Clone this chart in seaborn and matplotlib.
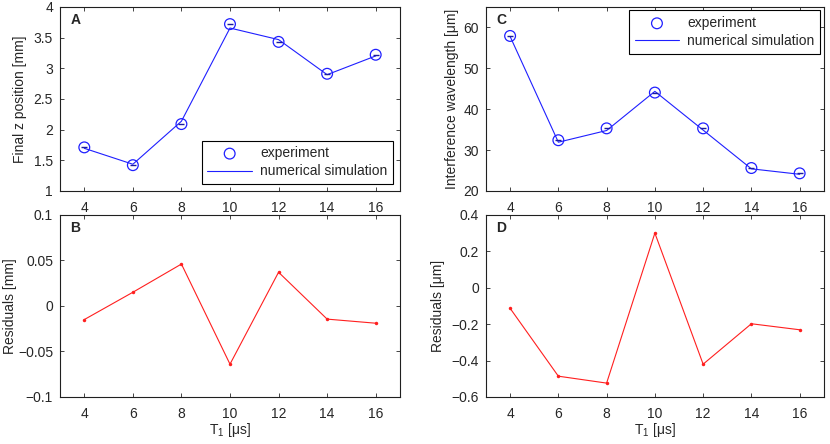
import numpy as np
import pandas as pd
import seaborn as sns
import matplotlib.pyplot as plt

# data
t1 = [4, 6, 8, 10, 12, 14, 16]
z_exp = [1.71, 1.42, 2.09, 3.72, 3.43, 2.91, 3.22]
z_res = [-0.015, 0.015, 0.046, -0.064, 0.037, -0.0145, -0.019]
wl_exp = [57.9, 32.4, 35.3, 44.05, 35.3, 25.6, 24.3]
wl_res = [-0.113, -0.486, -0.524, 0.30, -0.42, -0.198, -0.231]

z_sim = list(np.array(z_exp) + np.array(z_res))
wl_sim = list(np.array(wl_exp) + np.array(wl_res))

sns.set_style("ticks")
plt.rcParams['font.family'] = ['Liberation Sans', 'DejaVu Sans']
plt.rcParams['mathtext.fontset'] = 'custom'
plt.rcParams['mathtext.rm'] = 'Liberation Sans'
plt.rcParams['mathtext.it'] = 'Liberation Sans'
fs = 10

fig = plt.figure(figsize=(8.3, 4.44), dpi=100)
axA = fig.add_axes([0.0723, 0.570, 0.4096, 0.4144])
axB = fig.add_axes([0.0723, 0.106, 0.4096, 0.410])
axC = fig.add_axes([0.5855, 0.570, 0.407, 0.4144])
axD = fig.add_axes([0.5855, 0.106, 0.407, 0.410])


def top_panel(ax, exp, sim, ylabel, ylim, yticks, letter, loc, yfmt, lpad):
    df = pd.DataFrame({"t": t1, "exp": exp, "sim": sim})
    sns.lineplot(data=df, x="t", y="sim", ax=ax, color="#1f1fff", lw=0.8,
                 label="numerical simulation")
    sns.scatterplot(data=df, x="t", y="exp", ax=ax, marker="o", s=60,
                    facecolors="none", edgecolor="#1f1fff", linewidth=0.9,
                    label="experiment")
    ax.plot(t1, exp, ls="none", marker="_", ms=5, mew=1.0, color="#1a1aa0")
    ax.set_xlim(3, 17)
    ax.set_ylim(*ylim)
    ax.set_xticks(t1)
    ax.set_yticks(yticks)
    ax.set_yticklabels([yfmt(v) for v in yticks])
    ax.set_xlabel("")
    ax.set_ylabel(ylabel, fontsize=fs, labelpad=lpad)
    h, l = ax.get_legend_handles_labels()
    leg = ax.legend([h[1], h[0]], [l[1], l[0]], loc=loc, fontsize=fs,
                    fancybox=False, edgecolor="black", framealpha=1,
                    handlelength=3.2, handletextpad=0.6, labelspacing=0.3,
                    borderaxespad=0.5 if loc == "lower right" else 0.25)
    leg.get_frame().set_linewidth(0.8)
    ax.text(0.03, 0.965, letter, transform=ax.transAxes, fontsize=fs,
            fontweight="bold", va="top", ha="left")


def bottom_panel(ax, res, ylabel, ylim, yticks, letter, yfmt, lpad):
    df = pd.DataFrame({"t": t1, "res": res})
    sns.lineplot(data=df, x="t", y="res", ax=ax, color="#ff1f1f", lw=0.8,
                 marker="o", markersize=2.5, markeredgewidth=0)
    ax.set_xlim(3, 17)
    ax.set_ylim(*ylim)
    ax.set_xticks(t1)
    ax.set_yticks(yticks)
    ax.set_yticklabels([yfmt(v) for v in yticks])
    ax.set_xlabel("T$_1$ [\u03bcs]", fontsize=fs, labelpad=0)
    ax.set_ylabel(ylabel, fontsize=fs, labelpad=lpad)
    ax.text(0.03, 0.965, letter, transform=ax.transAxes, fontsize=fs,
            fontweight="bold", va="top", ha="left")


def fmt_g(v):
    s = ("%g" % round(v, 3))
    return s.replace("-", "\u2212")


top_panel(axA, z_exp, z_sim, "Final z position [mm]", (1, 4),
          [1, 1.5, 2, 2.5, 3, 3.5, 4], "A", "lower right", fmt_g, 5)
top_panel(axC, wl_exp, wl_sim, "Interference wavelength [\u03bcm]", (20, 65),
          [20, 30, 40, 50, 60], "C", "upper right", fmt_g, 3)
bottom_panel(axB, z_res, "Residuals [mm]", (-0.1, 0.1),
             [-0.1, -0.05, 0, 0.05, 0.1], "B", fmt_g, 1)
bottom_panel(axD, wl_res, "Residuals [\u03bcm]", (-0.6, 0.4),
             [-0.6, -0.4, -0.2, 0, 0.2, 0.4], "D", fmt_g, 5)

for ax in [axA, axB, axC, axD]:
    ax.tick_params(direction="in", top=True, right=True, labelsize=fs,
                   length=3, width=0.6)
    ax.tick_params(axis="x", pad=7)
    ax.tick_params(axis="y", pad=5)
    for sp in ax.spines.values():
        sp.set_visible(True)
        sp.set_linewidth(0.8)
        sp.set_color("#202020")

fig.savefig("out.png", dpi=100)
